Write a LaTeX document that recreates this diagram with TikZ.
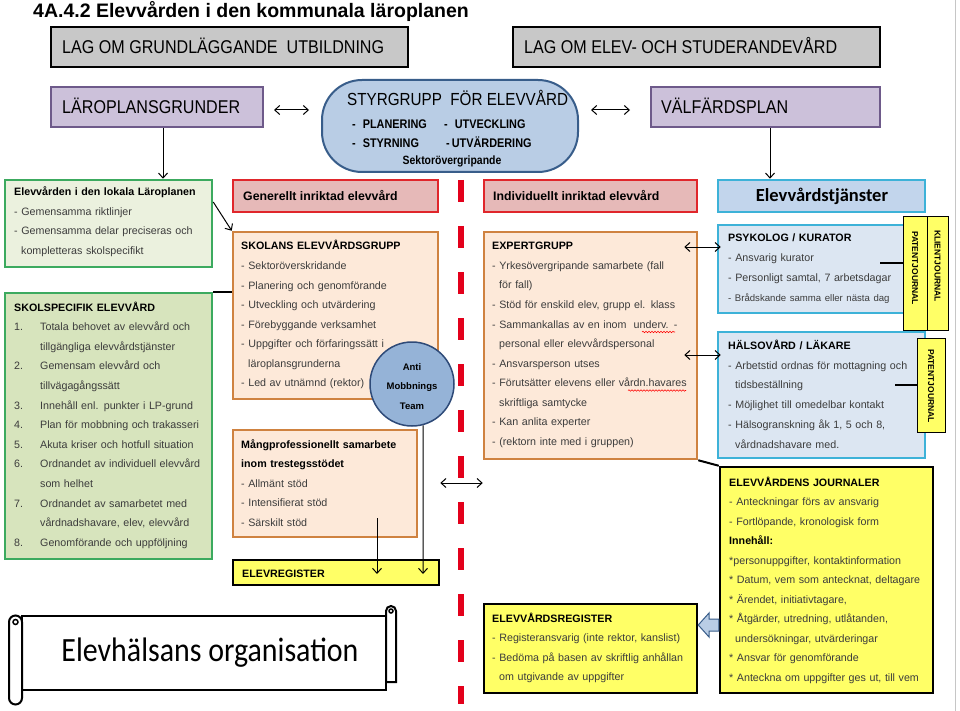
\documentclass[tikz,border=0pt]{standalone}
\usepackage{fontspec}
\setmainfont{Liberation Sans}
\newfontfamily\narrowf[FakeStretch=0.87]{Liberation Sans}
\newfontfamily\calibf{Carlito}
\newfontfamily\calibn[FakeStretch=0.88]{Carlito}
\usetikzlibrary{arrows.meta,fit,decorations.pathmorphing}
\definecolor{bodyc}{HTML}{3C3C3C}
\definecolor{grayfill}{HTML}{C8C8C8}
\definecolor{lavfill}{HTML}{CCC1DA}
\definecolor{lavdraw}{HTML}{6E5A8A}
\definecolor{styrfill}{HTML}{B9CDE5}
\definecolor{styrdraw}{HTML}{385D8A}
\definecolor{grnfillA}{HTML}{EBF1DE}
\definecolor{grnfillB}{HTML}{D7E4BD}
\definecolor{grndraw}{HTML}{3CAA5F}
\definecolor{redfill}{HTML}{E6B9B8}
\definecolor{reddraw}{HTML}{E0262B}
\definecolor{orfill}{HTML}{FDE9D9}
\definecolor{ordraw}{HTML}{CF8240}
\definecolor{antifill}{HTML}{95B3D7}
\definecolor{antidraw}{HTML}{2E4A78}
\definecolor{yel}{HTML}{FFFF66}
\definecolor{bluehead}{HTML}{C2D5EC}
\definecolor{bluefill}{HTML}{DCE6F2}
\definecolor{bluedraw}{HTML}{3DB2D8}
\definecolor{dashred}{HTML}{E3001B}
\newcommand\boxtitle[1]{{\bfseries\color{black}#1}}
\newcommand\numitem[2]{\makebox[26pt][l]{#1}#2}
\newcommand\contline[1]{\hspace*{26pt}#1}
\begin{document}
\begin{tikzpicture}[x=1pt,y=-1pt,
  box/.style={draw, inner sep=0pt},
  txt/.style={anchor=base west, inner sep=0pt, align=left, text width=#1,
     font=\fontsize{10.7}{19.5}\selectfont, text=bodyc},
  txt/.default=215pt,
  narrowlbl/.style={anchor=base west, inner sep=0pt, font=\narrowf\fontsize{18.5}{20}\selectfont},
  styrlbl/.style={anchor=base west, inner sep=0pt, font=\narrowf\bfseries\fontsize{12.5}{14}\selectfont},
  arr/.style={line width=1pt, -{Straight Barb[length=5pt,width=9pt]}},
  darr/.style={line width=1pt, {Straight Barb[length=5pt,width=9pt]}-{Straight Barb[length=5pt,width=9pt]}},
  jlbl/.style={rotate=-90, inner sep=0pt, font=\bfseries\fontsize{8.5}{9}\selectfont},
  scrollst/.style={line width=2pt, draw=black, fill=white},
  spell/.style={draw=red, line width=0.6pt, decorate, decoration={snake, amplitude=0.7pt, segment length=3pt}},
]
\useasboundingbox (0,0) rectangle (960,711);
\fill[white] (0,0) rectangle (960,711);
\draw[gray!45, line width=1pt] (955,0) -- (955,711);

% title
\node[anchor=base west, inner sep=0pt, font=\bfseries\fontsize{19.5}{21}\selectfont] (title) at (33,18) {4A.4.2 Elevvården i den kommunala läroplanen};

% top row
\node[box, fill=grayfill, line width=2.5pt, fit={(51,27) (408,67)}] (lagG) {};
\node[narrowlbl] (lagGt) at (62,54) {LAG OM GRUNDLÄGGANDE \ UTBILDNING};
\node[box, fill=grayfill, line width=2.5pt, fit={(513,27) (880,67)}] (lagE) {};
\node[narrowlbl] (lagEt) at (524,54) {LAG OM ELEV- OCH STUDERANDEVÅRD};

% second row
\node[box, fill=lavfill, draw=lavdraw, line width=2pt, fit={(51,87) (263,127)}] (lpg) {};
\node[narrowlbl] (lpgt) at (62,114) {LÄROPLANSGRUNDER};
\node[box, fill=lavfill, draw=lavdraw, line width=2pt, fit={(651,87) (880,127)}] (vfp) {};
\node[narrowlbl] (vfpt) at (661,114) {VÄLFÄRDSPLAN};
\node[box, fill=styrfill, draw=styrdraw, line width=2pt, rounded corners=40pt, fit={(322,80) (578,172)}] (styr) {};
\node[narrowlbl, font=\narrowf\fontsize{17.5}{20}\selectfont] (styrt) at (347,106) {STYRGRUPP \ FÖR ELEVVÅRD};
\node[styrlbl] (s1) at (352,128.5) {-\hspace{7pt}PLANERING};
\node[styrlbl] (s2) at (444,128.5) {-\hspace{7pt}UTVECKLING};
\node[styrlbl] (s3) at (352,147.5) {-\hspace{7pt}STYRNING};
\node[styrlbl] (s4) at (446,147.5) {-\hspace{2pt}UTVÄRDERING};
\node[anchor=base, inner sep=0pt, font=\narrowf\bfseries\fontsize{12}{14}\selectfont] (s5) at (452,165) {Sektorövergripande};

\draw[darr] ([xshift=10pt]lpg.east |- 0,110) -- ([xshift=-12pt]styr.west |- 0,110);
\draw[darr] ([xshift=12pt]styr.east |- 0,110) -- ([xshift=-20pt]vfp.west |- 0,110);

% green boxes
\node[box, fill=grnfillA, draw=grndraw, line width=2.5pt, fit={(5,180) (212,267)}] (lokal) {};
\node[txt] (lokalt) at (14,196) {\boxtitle{Elevvården i den lokala Läroplanen}\\- Gemensamma riktlinjer\\- Gemensamma delar preciseras och\\\hspace*{7pt}kompletteras skolspecifikt};
\node[box, fill=grnfillB, draw=grndraw, line width=2.5pt, fit={(5,293) (212,559)}] (skol) {};
\node[txt, font=\fontsize{10.7}{19.6}\selectfont] (skolt) at (14,311) {\boxtitle{SKOLSPECIFIK ELEVVÅRD}\\
\numitem{1.}{Totala behovet av elevvård och}\\
\contline{tillgängliga elevvårdstjänster}\\
\numitem{2.}{Gemensam elevvård och}\\
\contline{tillvägagångssätt}\\
\numitem{3.}{Innehåll enl. punkter i LP-grund}\\
\numitem{4.}{Plan för mobbning och trakasseri}\\
\numitem{5.}{Akuta kriser och hotfull situation}\\
\numitem{6.}{Ordnandet av individuell elevvård}\\
\contline{som helhet}\\
\numitem{7.}{Ordnandet av samarbetet med}\\
\contline{vårdnadshavare, elev, elevvård}\\
\numitem{8.}{Genomförande och uppföljning}};

\draw[arr] (lpg.south -| 163,0) -- (lokal.north -| 163,0);

% red headers
\node[box, fill=redfill, draw=reddraw, line width=2pt, fit={(233,180) (438,212)}] (gen) {};
\node[anchor=base west, inner sep=0pt, font=\bfseries\fontsize{12.3}{14}\selectfont] (gent) at (243,200.5) {Generellt inriktad elevvård};
\node[box, fill=redfill, draw=reddraw, line width=2pt, fit={(484,180) (697,212)}] (ind) {};
\node[anchor=base west, inner sep=0pt, font=\bfseries\fontsize{12.3}{14}\selectfont] (indt) at (493,200.5) {Individuellt inriktad elevvård};

% dashed divider
\coordinate (dtop) at (461,180);
\coordinate (dbot) at (461,704);
\draw[dashred, line width=6pt, dash pattern=on 22pt off 24pt] (dtop) -- (dbot);

% orange boxes left
\node[box, fill=orfill, draw=ordraw, line width=2.5pt, fit={(233,232) (438,399)}] (skeg) {};
\node[txt, font=\fontsize{10.7}{19.57}\selectfont] (skegt) at (241,250) {\boxtitle{SKOLANS ELEVVÅRDSGRUPP}\\- Sektoröverskridande\\- Planering och genomförande\\- Utveckling och utvärdering\\- Förebyggande verksamhet\\- Uppgifter och förfaringssätt i\\\hspace*{7pt}läroplansgrunderna\\- Led av utnämnd (rektor)};
\node[circle, draw=antidraw, fill=antifill, line width=1.5pt, minimum size=84pt, inner sep=0pt] (anti) at (412,384) {};
\node[anchor=base, inner sep=0pt, align=center, font=\bfseries\fontsize{9.5}{19.5}\selectfont] (antit) at (412,409) {Anti\\Mobbnings\\Team};

\node[box, fill=orfill, draw=ordraw, line width=2.5pt, fit={(233,430) (417,537)}] (mang) {};
\node[txt] (mangt) at (241,448) {\boxtitle{Mångprofessionellt samarbete}\\\boxtitle{inom trestegsstödet}\\- Allmänt stöd\\- Intensifierat stöd\\- Särskilt stöd};

\node[box, fill=yel, draw=black, line width=2.5pt, fit={(233,560) (439,585)}] (elevreg) {};
\node[anchor=base west, inner sep=0pt, font=\bfseries\fontsize{10.7}{12}\selectfont] (elevregt) at (242,577) {ELEVREGISTER};

\coordinate (m1) at (377,518);
\coordinate (e1) at (377,574);
\coordinate (e2) at (423,574);
\draw[arr] (m1) -- (e1);
\draw[arr] (anti.-75) -- (e2);

\draw[arr] (lokal.east |- 0,202) -- (skeg.north west);
\draw[line width=1.5pt] (skol.north east) -- (skol.north east -| skeg.west);

% expert
\node[box, fill=orfill, draw=ordraw, line width=2.5pt, fit={(484,232) (697,459)}] (expert) {};
\node[txt] (expertt) at (492,250) {\boxtitle{EXPERTGRUPP}\\- Yrkesövergripande samarbete (fall\\\hspace*{7pt}för fall)\\- Stöd för enskild elev, grupp el. klass\\- Sammankallas av en inom \ underv. -\\\hspace*{7pt}personal eller elevvårdspersonal\\- Ansvarsperson utses\\- Förutsätter elevens eller vårdn.havares\\\hspace*{7pt}skriftliga samtycke\\- Kan anlita experter\\- (rektorn inte med i gruppen)};
\coordinate (sp1a) at (642,332);
\coordinate (sp1b) at (675,332);
\coordinate (sp2a) at (628,390.5);
\coordinate (sp2b) at (686,390.5);
\draw[spell] (sp1a) -- (sp1b);
\draw[spell] (sp2a) -- (sp2b);

\draw[darr] (elevreg.east |- 0,483) -- (expert.west |- 0,483);

% right column
\node[box, fill=bluehead, draw=bluedraw, line width=2.5pt, fit={(718,180) (925,212)}] (tj) {};
\node[anchor=base, inner sep=0pt, font=\calibf\bfseries\fontsize{18.5}{20}\selectfont] (tjt) at (822,202) {Elevvårdstjänster};
\draw[arr] (vfp.south -| 770,0) -- (tj.north -| 770,0);

\node[box, fill=bluefill, draw=bluedraw, line width=2.5pt, fit={(718,225) (905,313)}] (psyk) {};
\node[txt, font=\fontsize{10.7}{19.7}\selectfont] (psykt) at (728,242) {\boxtitle{PSYKOLOG / KURATOR}\\- Ansvarig kurator\\- Personligt samtal, 7 arbetsdagar\\{\fontsize{9.6}{19.7}\selectfont - Brådskande samma eller nästa dag}};
\node[box, fill=yel, draw=black, line width=1pt, fit={(903,217) (927,330)}] (pj1) {};
\node[box, fill=yel, draw=black, line width=1pt, fit={(927,217) (948,330)}] (kj) {};
\node[jlbl] (pj1t) at (915,268) {PATENTJOURNAL};
\node[jlbl] (kjt) at (937.5,266) {KLIENTJOURNAL};
\draw[line width=2pt] (880,263) -- (pj1.west |- 0,263);

\node[box, fill=bluefill, draw=bluedraw, line width=2.5pt, fit={(718,332) (925,458)}] (hals) {};
\node[txt, font=\fontsize{10.7}{19.7}\selectfont] (halst) at (728,349.5) {\boxtitle{HÄLSOVÅRD / LÄKARE}\\- Arbetstid ordnas för mottagning och\\\hspace*{7pt}tidsbeställning\\- Möjlighet till omedelbar kontakt\\- Hälsogranskning åk 1, 5 och 8,\\\hspace*{7pt}vårdnadshavare med.};
\node[box, fill=yel, draw=black, line width=1pt, fit={(917,338) (945,432)}] (pj2) {};
\node[jlbl] (pj2t) at (931,386) {PATENTJOURNAL};
\draw[line width=2pt] (895,385) -- (pj2.west |- 0,385);

\draw[darr] ([xshift=-14pt]expert.east |- 0,247) -- ([xshift=4pt]psyk.west |- 0,247);
\draw[darr] ([xshift=-14pt]expert.east |- 0,355) -- ([xshift=4pt]hals.west |- 0,355);

% journals
\node[box, fill=yel, draw=black, line width=2.5pt, fit={(720,467) (933,693)}] (journ) {};
\node[txt] (journt) at (729,486) {\boxtitle{ELEVVÅRDENS JOURNALER}\\- Anteckningar förs av ansvarig\\- Fortlöpande, kronologisk form\\\boxtitle{Innehåll:}\\{}*personuppgifter, kontaktinformation\\{}* Datum, vem som antecknat, deltagare\\{}* Ärendet, initiativtagare,\\{}* Åtgärder, utredning, utlåtanden,\\\hspace*{6pt}undersökningar, utvärderingar\\{}* Ansvar för genomförande\\{}* Anteckna om uppgifter ges ut, till vem};
\draw[line width=2pt] (expert.south east) -- (journ.north west);

% register
\node[box, fill=yel, draw=black, line width=2.5pt, fit={(484,604) (697,693)}] (reg) {};
\node[txt] (regt) at (492,622) {\boxtitle{ELEVVÅRDSREGISTER}\\- Registeransvarig (inte rektor, kanslist)\\- Bedöma på basen av skriftlig anhållan\\\hspace*{7pt}om utgivande av uppgifter};
\draw[fill=styrfill, draw=styrdraw, line width=1pt] (reg.east |- 0,625) -- (709,613) -- (709,619) -- (journ.west |- 0,619) -- (journ.west |- 0,631) -- (709,631) -- (709,637) -- cycle;

% scroll banner
\draw[scrollst] (22,616) rectangle (386,690);
\draw[scrollst] (386,682) -- (386,611) arc[start angle=180,end angle=360,radius=5] -- (396,682) -- cycle;
\draw[line width=1.5pt] (391,611) circle[radius=2];
\draw[scrollst] (22,622) arc[start angle=0,end angle=-180,radius=6.5] -- (9,698) arc[start angle=180,end angle=0,radius=6.5] -- cycle;
\draw[line width=1.5pt] (15.5,622) circle[radius=2.5];
\node[anchor=base, inner sep=0pt, font=\calibn\fontsize{34}{36}\selectfont] (scrollt) at (210,661) {Elevhälsans organisation};
\end{tikzpicture}
\end{document}
